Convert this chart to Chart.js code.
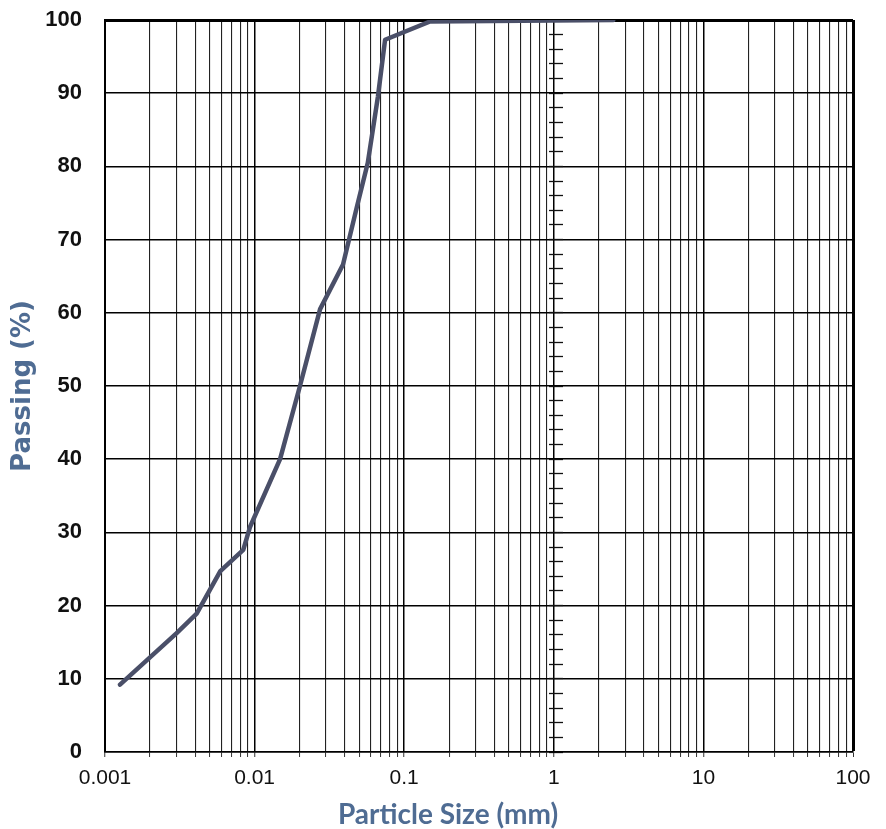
<!DOCTYPE html>
<html>
<head>
<meta charset="utf-8">
<script src="https://cdn.jsdelivr.net/npm/chart.js@4/dist/chart.umd.min.js"></script>
<style>
  html, body { margin: 0; padding: 0; background: #ffffff; }
  #wrap { width: 886px; height: 829px; }
</style>
</head>
<body>
<div id="wrap"><canvas id="c" width="886" height="829"></canvas></div>
<script>
// ---- data ----
const particleSizeMm = [0.00126, 0.0030, 0.0041, 0.0059, 0.0084, 0.0093, 0.0148, 0.0201, 0.0274, 0.039, 0.0483, 0.0571, 0.0667, 0.0745, 0.149, 2.5];
const percentPassing = [9.2, 16.2, 18.9, 24.7, 27.6, 30.7, 40.0, 50.0, 60.5, 66.6, 74.5, 80.5, 89.5, 97.3, 99.8, 100];

// ---- axis tick definitions ----
const xDecades = [0.001, 0.01, 0.1, 1, 10, 100];
const xTickLabels = ['0.001', '0.01', '0.1', '1', '10', '100'];
const xMinorMultipliers = [1, 2, 3, 4, 5, 6, 7, 8, 9];
const yTickValues = [0, 10, 20, 30, 40, 50, 60, 70, 80, 90, 100];

const xAxisTitle = 'Particle Size (mm)';
const yAxisTitle = 'Passing (%)';

// build x tick list (decade lines + minor log lines)
const xTicks = [];
xDecades.forEach((d, i) => {
  if (i === xDecades.length - 1) { xTicks.push({ value: d, lbl: xTickLabels[i] }); return; }
  xMinorMultipliers.forEach(m => {
    xTicks.push({ value: parseFloat((d * m).toPrecision(6)), lbl: m === 1 ? xTickLabels[i] : '' });
  });
});

const points = particleSizeMm.map((x, i) => ({ x: x, y: percentPassing[i] }));

const noPad = s => { s.paddingTop = 0; s.paddingBottom = 0; };

new Chart(document.getElementById('c'), {
  type: 'line',
  data: {
    datasets: [{
      data: points,
      borderColor: '#4a4f68',
      borderWidth: 4.5,
      pointRadius: 0,
      tension: 0,
      borderCapStyle: 'round',
      borderJoinStyle: 'round',
      fill: false
    }]
  },
  options: {
    responsive: false,
    animation: false,
    layout: { padding: { left: 10, right: 0, top: 20, bottom: 0 } },
    plugins: {
      legend: { display: false },
      tooltip: { enabled: false },
      title: {
        display: true,
        position: 'bottom',
        text: xAxisTitle,
        color: '#4f6c93',
        font: { family: 'Lato', size: 28, weight: 'bold', lineHeight: 1 },
        padding: { top: 0, bottom: 0 }
      }
    },
    scales: {
      x: {
        type: 'logarithmic',
        position: 'bottom',
        min: 0.001,
        max: 100,
        afterBuildTicks: s => { s.ticks = xTicks.map(t => ({ value: t.value, lbl: t.lbl })); },
        afterFit: s => { s.height = 49; },
        ticks: {
          autoSkip: false,
          maxRotation: 0,
          minRotation: 0,
          padding: 9,
          color: '#111',
          font: { family: 'Liberation Sans', size: 21 },
          callback: (v, i, ticks) => ticks[i].lbl
        },
        grid: {
          display: true,
          drawOnChartArea: true,
          drawTicks: true,
          tickLength: 5,
          color: ctx => (ctx.tick && xDecades.includes(ctx.tick.value)) ? '#000' : '#222',
          lineWidth: ctx => (ctx.tick && ctx.tick.value === 100) ? 3 : ((ctx.tick && xDecades.includes(ctx.tick.value)) ? 1.5 : 1.1),
          tickColor: '#333',
          tickWidth: 1
        },
        border: { display: true, color: '#000', width: 1.5 }
      },
      y: {
        type: 'linear',
        position: 'left',
        min: 0,
        max: 100,
        afterBuildTicks: s => { s.ticks = yTickValues.map(v => ({ value: v })); },
        afterFit: s => { s.width = 95; noPad(s); },
        ticks: {
          padding: 23,
          color: '#111',
          font: { family: 'Liberation Sans', size: 22, weight: 'bold' }
        },
        grid: {
          drawTicks: false,
          color: '#000',
          lineWidth: ctx => (ctx.tick && ctx.tick.value === 100) ? 3 : 1.5
        },
        border: { display: true, color: '#000', width: 2 },
        title: {
          display: true,
          text: yAxisTitle,
          color: '#4f6c93',
          font: { family: 'DejaVu Sans', size: 26, weight: 'bold', lineHeight: 1 },
          padding: { top: 0, bottom: 0 }
        }
      },
      yMid: {
        type: 'linear',
        position: { x: 1.15 },
        min: 0,
        max: 100,
        afterBuildTicks: s => {
          const t = [];
          for (let v = 0; v <= 100; v += 2) t.push({ value: v });
          s.ticks = t;
        },
        afterFit: noPad,
        ticks: { display: false, autoSkip: false },
        grid: {
          display: true,
          drawOnChartArea: false,
          drawTicks: true,
          tickLength: 14,
          tickColor: '#111',
          tickWidth: 1.3
        },
        border: { display: false }
      },
      yRight: {
        type: 'linear',
        position: 'right',
        min: 0,
        max: 100,
        afterFit: s => { s.width = 33; noPad(s); },
        ticks: { display: false },
        grid: { display: false },
        border: { display: false }
      }
    }
  }
});
</script>
</body>
</html>
